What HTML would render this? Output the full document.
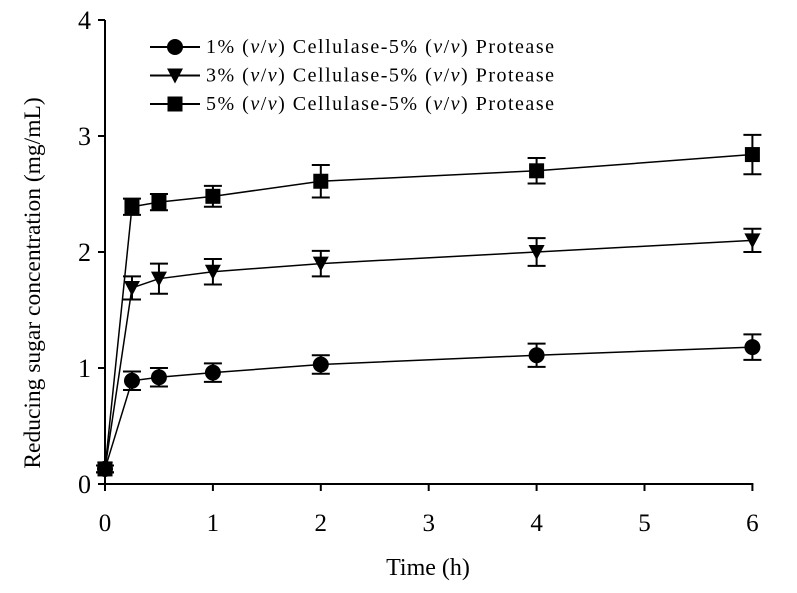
<!DOCTYPE html>
<html><head><meta charset="utf-8"><style>
body{margin:0;background:#fff;}
svg{display:block;font-family:"Liberation Serif",serif;}
</style></head><body>
<svg id="chart" width="797" height="593"></svg>
<script>
const times=[0,0.25,0.5,1,2,4,6];
const s1=[0.13,0.89,0.92,0.96,1.03,1.11,1.18];
const s2=[0.13,1.69,1.77,1.83,1.90,2.00,2.10];
const s3=[0.13,2.39,2.43,2.48,2.61,2.70,2.84];
const e1=[0.03,0.08,0.08,0.08,0.08,0.10,0.11];
const e2=[0.03,0.10,0.13,0.11,0.11,0.12,0.10];
const e3=[0.03,0.07,0.07,0.09,0.14,0.11,0.17];
const xTicks=[0,1,2,3,4,5,6];
const yTicks=[0,1,2,3,4];
const labels=["1%","3%","5%"];
const NS="http://www.w3.org/2000/svg";
const svg=document.getElementById('chart');
const X=v=>105+v*107.9;
const Y=v=>484-v*116;
function mk(t,a,p){const e=document.createElementNS(NS,t);for(const k in a)e.setAttribute(k,a[k]);(p||svg).appendChild(e);return e;}
let ax=mk('line',{x1:105,y1:Y(4),x2:105,y2:Y(0)+1,stroke:'#000','stroke-width':2});


let axx=mk('line',{x1:104,y1:Y(0),x2:X(6)+1,y2:Y(0),stroke:'#000','stroke-width':2});


yTicks.forEach(v=>{
 mk('line',{x1:98,y1:Y(v),x2:105,y2:Y(v),stroke:'#000','stroke-width':2});
 const t=mk('text',{x:91,y:Y(v)+9,'text-anchor':'end','font-size':26});t.textContent=v;
 
 
});
xTicks.forEach(v=>{
 mk('line',{x1:X(v),y1:Y(0),x2:X(v),y2:Y(0)+7,stroke:'#000','stroke-width':2});
 const t=mk('text',{x:X(v),y:531,'text-anchor':'middle','font-size':25});t.textContent=v;
 
 
});
let xt=mk('text',{x:428,y:575,'text-anchor':'middle','font-size':24});xt.textContent='Time (h)';


let yt=mk('text',{x:0,y:0,'text-anchor':'middle','font-size':23.5,transform:'translate(40,283) rotate(-90)'});yt.textContent='Reducing sugar concentration (mg/mL)';


function marker(type,x,y,g){
 if(type==0)mk('circle',{cx:x,cy:y,r:8,fill:'#000'},g);
 else if(type==1)mk('polygon',{points:`${x-8},${y-7} ${x+8},${y-7} ${x},${y+8}`,fill:'#000'},g);
 else mk('rect',{x:x-7.5,y:y-7.5,width:15,height:15,fill:'#000'},g);
}
const series=[s1,s2,s3],errs=[e1,e2,e3];
series.forEach((s,i)=>{
 const g=mk('g',{});
 
 
 mk('polyline',{points:times.map((t,j)=>X(t)+','+Y(s[j])).join(' '),fill:'none',stroke:'#000','stroke-width':1.5},g);
 times.forEach((t,j)=>{
  const x=X(t),hi=Y(s[j]+errs[i][j]),lo=Y(s[j]-errs[i][j]);
  mk('path',{d:`M${x},${hi}V${lo}M${x-9},${hi}H${x+9}M${x-9},${lo}H${x+9}`,stroke:'#000','stroke-width':2,fill:'none'},g);
  marker(i,x,Y(s[j]),g);
 });
});
labels.forEach((l,i)=>{
 const y=47+i*28.5;
 const g=mk('g',{});
 
 
 mk('line',{x1:150,y1:y,x2:200,y2:y,stroke:'#000','stroke-width':2},g);
 marker(i,175,y,g);
 const t=mk('text',{x:206,y:y+6,'font-size':20,textLength:348,lengthAdjust:'spacing'},g);
 t.innerHTML=l+' (<tspan font-style="italic">v</tspan>/<tspan font-style="italic">v</tspan>) Cellulase-5% (<tspan font-style="italic">v</tspan>/<tspan font-style="italic">v</tspan>) Protease';
});
</script>
</body></html>
